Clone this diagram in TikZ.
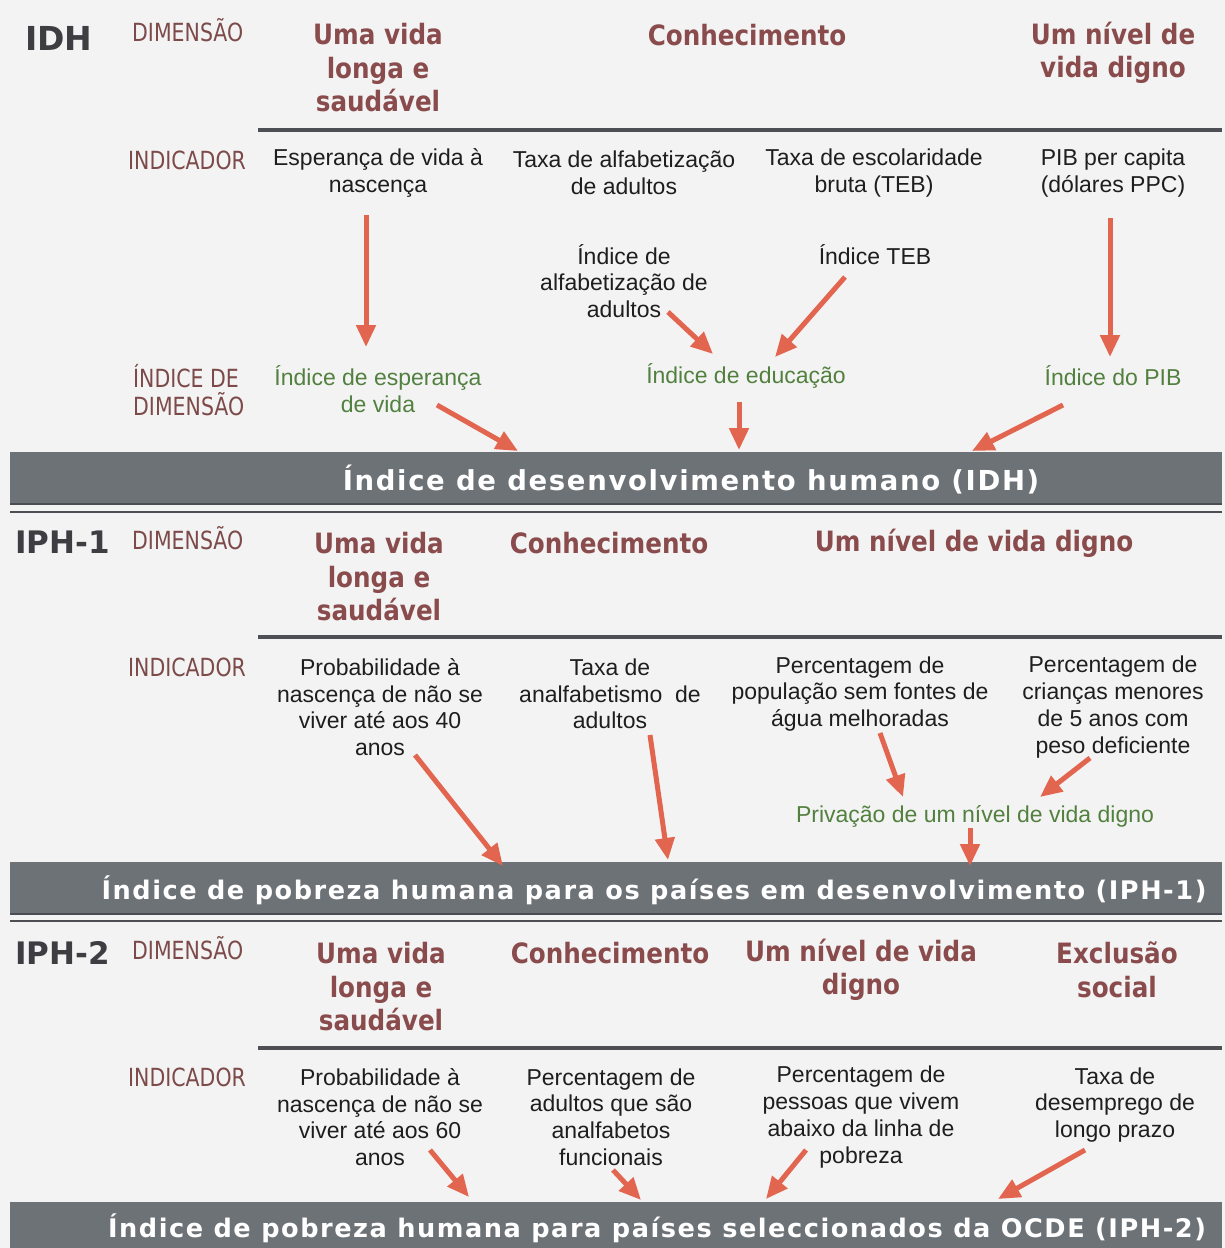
\documentclass[tikz,border=0pt]{standalone}
\usepackage{fontspec}
\setmainfont{Liberation Sans}
\newfontfamily\headfont{DejaVu Sans}[FakeStretch=0.88]
\newfontfamily\labfont{DejaVu Sans}[FakeStretch=0.82]
\newfontfamily\secfont{DejaVu Sans}
\newfontfamily\barfont{DejaVu Sans}[LetterSpace=6]
\usetikzlibrary{arrows.meta}
\definecolor{headc}{HTML}{8A4B4C}
\definecolor{labc}{HTML}{7D4A4A}
\definecolor{grnc}{HTML}{52803F}
\definecolor{arrc}{HTML}{E2654F}
\definecolor{barc}{HTML}{6D7277}
\definecolor{bardk}{HTML}{4A4D52}
\definecolor{rulec}{HTML}{4D4F55}
\definecolor{secc}{HTML}{3D3D42}
\definecolor{bgc}{HTML}{F3F3F3}
\definecolor{txtc}{HTML}{1E1E1E}
\begin{document}
\begin{tikzpicture}[x=1pt,y=-1pt,
  dimtxt/.style={font=\headfont\bfseries\fontsize{28}{33.5}\selectfont, text=headc, align=center, inner sep=0},
  indtxt/.style={font=\fontsize{23}{26.7}\selectfont, text=txtc, align=center, inner sep=0},
  grntxt/.style={indtxt, text=grnc},
  labtxt/.style={font=\labfont\fontsize{25}{28}\selectfont, text=labc, inner sep=0, anchor=west, align=left},
  sectxt/.style={font=\secfont\bfseries\fontsize{31}{31}\selectfont, text=secc, inner sep=0, anchor=west},
  barbox/.style={fill=barc},
  bartxt/.style={font=\barfont\bfseries\fontsize{25.6}{26}\selectfont, text=white, inner sep=0},
  bartxtbig/.style={bartxt, font=\barfont\bfseries\fontsize{27.5}{28}\selectfont},
  barline/.style={draw=bardk, line width=2pt},
  rulel/.style={draw=rulec, line width=4pt},
  thinl/.style={draw=rulec, line width=2pt},
  arr/.style={draw=arrc, line width=5pt, -{Triangle[width=19pt,length=22pt]}}
]
\useasboundingbox (0,0) rectangle (1225,1248);
\fill[bgc] (0,0) rectangle (1225,1248);

% ---------------- IDH ----------------
\node[sectxt, font=\secfont\bfseries\fontsize{33}{33}\selectfont] (secA) at (25,38) {IDH};
\node[labtxt] (dimA) at (132,30) {DIMENSÃO};
\node[dimtxt] (dA1) at (378,68) {Uma vida\\longa e\\saudável};
\node[dimtxt] (dA2) at (747,35) {Conhecimento};
\node[dimtxt] (dA3) at (1113,53) {Um nível de\\vida digno};
\draw[rulel] (258,130) -- (1222,130);
\node[labtxt] (indA) at (128,160) {INDICADOR};
\node[indtxt] (iA1) at (378,173) {Esperança de vida à\\nascença};
\node[indtxt] (iA2) at (624,173) {Taxa de alfabetização\\de adultos};
\node[indtxt] (iA3) at (874,173) {Taxa de escolaridade\\bruta (TEB)};
\node[indtxt] (iA4) at (1113,173) {PIB per capita\\(dólares PPC)};
\node[indtxt] (sA1) at (624,281) {Índice de\\alfabetização de\\adultos};
\node[indtxt] (sA2) at (875,255) {Índice TEB};
\node[labtxt] (idxA) at (133,390) {ÍNDICE DE\\DIMENSÃO};
\node[grntxt] (gA1) at (378,389) {Índice de esperança\\de vida};
\node[grntxt] (gA2) at (746,376) {Índice de educação};
\node[grntxt] (gA3) at (1113,376) {Índice do PIB};
\fill[barbox] (10,452) rectangle (1222,505);
\draw[barline] (10,504) -- (1222,504);
\node[bartxtbig] (barA) at (691,480) {Índice de desenvolvimento humano (IDH)};
\draw[thinl] (10,512) -- (1222,512);

\coordinate (aA1s) at (366,215); \coordinate (aA1e) at (366,347);
\coordinate (aA2s) at (668,312); \coordinate (aA2e) at (713,354);
\coordinate (aA3s) at (845,277); \coordinate (aA3e) at (775,357);
\coordinate (aA4s) at (1110,218); \coordinate (aA4e) at (1110,357);
\coordinate (aA5s) at (437,405); \coordinate (aA5e) at (518,451);
\coordinate (aA6s) at (739,402); \coordinate (aA6e) at (739,450);
\coordinate (aA7s) at (1063,405); \coordinate (aA7e) at (972,451);
\foreach \k in {1,...,7} {\draw[arr] (aA\k s) -- (aA\k e);}

% ---------------- IPH-1 ----------------
\node[sectxt] (secB) at (15,542) {IPH-1};
\node[labtxt] (dimB) at (132,538) {DIMENSÃO};
\node[dimtxt] (dB1) at (379,577) {Uma vida\\longa e\\saudável};
\node[dimtxt] (dB2) at (609,543) {Conhecimento};
\node[dimtxt] (dB3) at (974,543) {Um nível de vida digno};
\draw[rulel] (258,637) -- (1222,637);
\node[labtxt] (indB) at (128,667) {INDICADOR};
\node[indtxt] (iB1) at (380,707) {Probabilidade à\\nascença de não se\\viver até aos 40\\anos};
\node[indtxt] (iB2) at (610,694) {Taxa de\\analfabetismo\ \ de\\adultos};
\node[indtxt] (iB3) at (860,694) {Percentagem de\\população sem fontes de\\água melhoradas};
\node[indtxt] (iB4) at (1113,707) {Percentagem de\\crianças menores\\de 5 anos com\\peso deficiente};
\node[grntxt] (gB1) at (975,816) {Privação de um nível de vida digno};
\fill[barbox] (10,862) rectangle (1222,915);
\draw[barline] (10,914) -- (1222,914);
\node[bartxt] (barB) at (654,890) {Índice de pobreza humana para os países em desenvolvimento (IPH-1)};
\draw[thinl] (10,921) -- (1222,921);

\coordinate (aB1s) at (415,755); \coordinate (aB1e) at (503,866);
\coordinate (aB2s) at (650,735); \coordinate (aB2e) at (668,860);
\coordinate (aB3s) at (880,733); \coordinate (aB3e) at (903,797);
\coordinate (aB4s) at (1090,758); \coordinate (aB4e) at (1040,797);
\coordinate (aB5s) at (970,828); \coordinate (aB5e) at (970,866);
\foreach \k in {1,...,5} {\draw[arr] (aB\k s) -- (aB\k e);}

% ---------------- IPH-2 ----------------
\node[sectxt] (secC) at (15,953) {IPH-2};
\node[labtxt] (dimC) at (132,948) {DIMENSÃO};
\node[dimtxt] (dC1) at (381,987) {Uma vida\\longa e\\saudável};
\node[dimtxt] (dC2) at (610,953) {Conhecimento};
\node[dimtxt] (dC3) at (861,970) {Um nível de vida\\digno};
\node[dimtxt] (dC4) at (1117,970) {Exclusão\\social};
\draw[rulel] (258,1048) -- (1222,1048);
\node[labtxt] (indC) at (128,1077) {INDICADOR};
\node[indtxt] (iC1) at (380,1117) {Probabilidade à\\nascença de não se\\viver até aos 60\\anos};
\node[indtxt] (iC2) at (611,1117) {Percentagem de\\adultos que são\\analfabetos\\funcionais};
\node[indtxt] (iC3) at (861,1117) {Percentagem de\\pessoas que vivem\\abaixo da linha de\\pobreza};
\node[indtxt] (iC4) at (1115,1105) {Taxa de\\desemprego de\\longo prazo};
\fill[barbox] (10,1202) rectangle (1222,1248);
\node[bartxt] (barC) at (657,1228) {Índice de pobreza humana para países seleccionados da OCDE (IPH-2)};

\coordinate (aC1s) at (430,1150); \coordinate (aC1e) at (469,1197);
\coordinate (aC2s) at (613,1170); \coordinate (aC2e) at (641,1200);
\coordinate (aC3s) at (806,1150); \coordinate (aC3e) at (766,1199);
\coordinate (aC4s) at (1085,1150); \coordinate (aC4e) at (998,1199);
\foreach \k in {1,...,4} {\draw[arr] (aC\k s) -- (aC\k e);}
\end{tikzpicture}
\end{document}
